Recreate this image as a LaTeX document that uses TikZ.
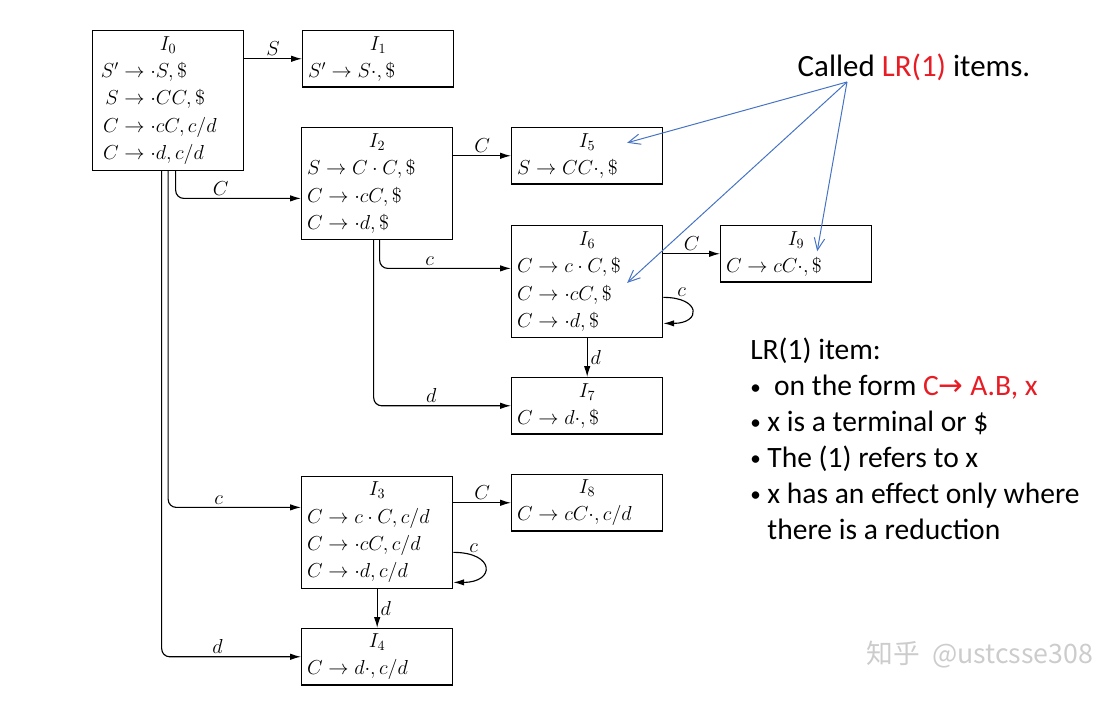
\documentclass[tikz,border=0pt]{standalone}
\usepackage{amsmath}
\usepackage{fontspec}
\usetikzlibrary{positioning,calc,arrows.meta}
\newfontfamily\slidefont{Carlito}
\newfontfamily\symfont{DejaVu Sans}
\newfontfamily\cjkfont{Noto Sans CJK SC}
\definecolor{noteblue}{RGB}{68,114,196}
\definecolor{notered}{RGB}{232,28,36}
\newcommand{\lhs}[1]{\makebox[1.05em][r]{$#1$}}
\newcommand{\ttl}[1]{\makebox[3.5cm]{$#1$}}
\newcommand{\blt}{\raisebox{0.12ex}{\fontsize{15}{15}\selectfont\textbullet}}

\begin{document}
\begin{tikzpicture}
[x=0.025cm, y=-0.025cm,
state/.style={draw, line width=0.8pt, anchor=north west, text width=3.5cm, inner xsep=0.14cm, inner ysep=0pt, align=left, font=\fontsize{14}{19.5}\selectfont},
state-2/.style={state, minimum height=1.41cm},
state-4/.style={state, minimum height=2.79cm},
state-5/.style={state, minimum height=3.5cm},
edge-a/.style={line width=0.8pt, -{Latex[length=2.7mm,width=1.6mm]}, rounded corners=0.2cm},
text-a/.style={font=\fontsize{14}{16}\selectfont, inner sep=2pt},
edge-b/.style={noteblue, line width=0.7pt, -{Straight Barb[length=3mm,width=2.6mm]}},
note-a/.style={font=\slidefont\fontsize{21}{25.5}\selectfont, inner sep=0pt},]
\useasboundingbox (0,0) rectangle (1106,702);
% item sets
\node (I0) [state-5] at (92,30)   {\ttl{I_0}\\ $\lhs{S'}\to\cdot S,\$$\\ $\lhs{S}\to\cdot CC,\$$\\ $\lhs{C}\to\cdot cC,c/d$\\ $\lhs{C}\to\cdot d,c/d$};
\node (I1) [state-2] at (302,30)  {\ttl{I_1}\\ $S'\to S\cdot,\$$};
\node (I2) [state-4] at (301,127) {\ttl{I_2}\\ $S\to C\cdot C,\$$\\ $C\to\cdot cC,\$$\\ $C\to\cdot d,\$$};
\node (I5) [state-2] at (511,127) {\ttl{I_5}\\ $S\to CC\cdot,\$$};
\node (I6) [state-4] at (511,225) {\ttl{I_6}\\ $C\to c\cdot C,\$$\\ $C\to\cdot cC,\$$\\ $C\to\cdot d,\$$};
\node (I9) [state-2] at (720,225) {\ttl{I_9}\\ $C\to cC\cdot,\$$};
\node (I7) [state-2] at (511,377) {\ttl{I_7}\\ $C\to d\cdot,\$$};
\node (I3) [state-4] at (301,476) {\ttl{I_3}\\ $C\to c\cdot C,c/d$\\ $C\to\cdot cC,c/d$\\ $C\to\cdot d,c/d$};
\node (I8) [state-2] at (511,474) {\ttl{I_8}\\ $C\to cC\cdot,c/d$};
\node (I4) [state-2] at (301,628) {\ttl{I_4}\\ $C\to d\cdot,c/d$};
% goto edges
\draw [edge-a] (I1.west -| I0.east) -- (I1.west) node (l-01) [text-a, above, midway] {$S$};
\draw [edge-a] ($(I0.south)+(7.5,0)$) |- ($(I2.west)+(0,15)$) node (l-02) [text-a, above, pos=0.68] {$C$};
\draw [edge-a] (I0.south) |- ($(I3.west)+(0,-25)$) node (l-03) [text-a, above, pos=0.69] {$c$};
\draw [edge-a] ($(I0.south)+(-6.5,0)$) |- (I4.west) node (l-04) [text-a, above, pos=0.7] {$d$};
\draw [edge-a] (I5.west -| I2.east) -- (I5.west) node (l-25) [text-a, above, midway] {$C$};
\draw [edge-a] ($(I2.south)+(2.5,0)$) |- ($(I6.west)+(0,-13)$) node (l-26) [text-a, above, pos=0.69] {$c$};
\draw [edge-a] ($(I2.south)+(-3.5,0)$) |- (I7.west) node (l-27) [text-a, above, pos=0.71] {$d$};
\draw [edge-a] (I9.west -| I6.east) -- (I9.west) node (l-69) [text-a, above, midway] {$C$};
\draw [edge-a] ($(I6.east)+(0,16)$) .. controls +(38,0) and +(38,0) .. ($(I6.east)+(0,42)$) node (l-66) [text-a, above, pos=0.2] {$c$};
\draw [edge-a] (I6.south) -- (I7.north) node (l-67) [text-a, right, midway] {$d$};
\draw [edge-a] (I8.west -| I3.east) -- (I8.west) node (l-38) [text-a, above, midway] {$C$};
\draw [edge-a] ($(I3.east)+(0,20)$) .. controls +(42,0) and +(42,0) .. ($(I3.east)+(0,50)$) node (l-33) [text-a, above, pos=0.2] {$c$};
\draw [edge-a] (I3.south) -- (I4.north) node (l-34) [text-a, right, midway] {$d$};
% notes
\node (called) [note-a, anchor=base, font=\slidefont\fontsize{22}{26}\selectfont] at (914,77) {Called \textcolor{notered}{LR(1)} items.};
\coordinate (src) at (847,82);
\draw [edge-b] (src) -- ($(I5.center)+(40,-13)$);
\draw [edge-b] (src) -- ($(I6.center)+(40,1.5)$);
\draw [edge-b] (src) -- ($(I9.center)+(21,-2.5)$);
\node (item) [note-a, anchor=north west, align=left] at (750,338) {LR(1) item:\\ \blt\ \ on the form \textcolor{notered}{C{\symfont →} A.B, x}\\ \blt\ x is a terminal or \$\\ \blt\ The (1) refers to x\\ \blt\ x has an effect only where\\ \phantom{\blt\ }there is a reduction};
\node (wm) [text=gray!40, font=\cjkfont\fontsize{19}{22}\selectfont] at (980,655) {知乎\ \ @ustcsse308};
\end{tikzpicture}
\end{document}
